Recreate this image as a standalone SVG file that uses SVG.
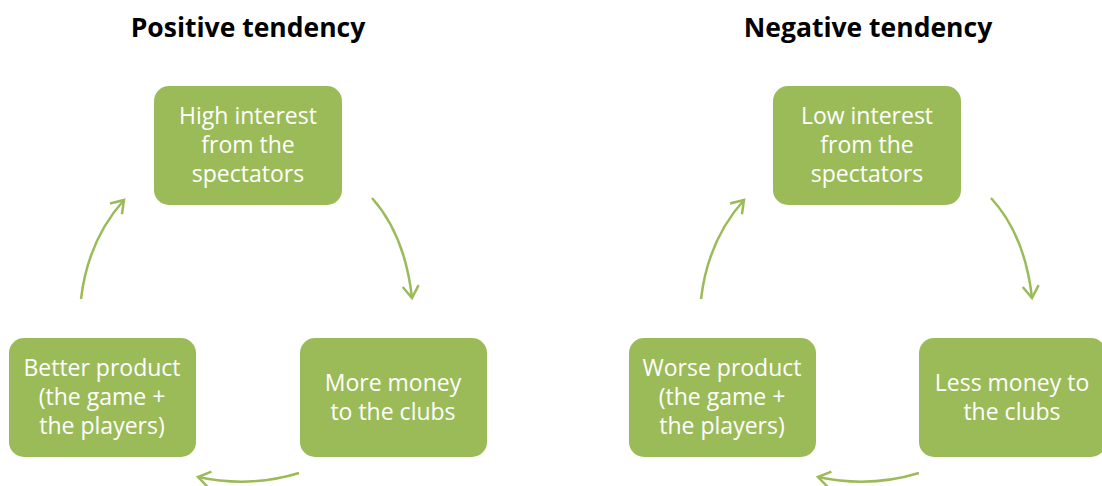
<svg xmlns="http://www.w3.org/2000/svg" width="1102" height="486" viewBox="0 0 1102 486">
<style>
.box{fill:#9BBB59}
.t{font-family:"Open Sans","Liberation Sans",sans-serif;font-size:23px;fill:#fff;text-anchor:middle}
.h{font-family:"Open Sans","Liberation Sans",sans-serif;font-size:26.5px;font-weight:bold;fill:#000;text-anchor:middle}
.c{fill:none;stroke:#9BBB59;stroke-width:2.5}
</style>
<defs>
<marker id="ah" viewBox="0 0 20 20" refX="14" refY="10" markerWidth="20" markerHeight="20" markerUnits="userSpaceOnUse" orient="auto">
<path d="M2,2 L14,10 L2,18" fill="none" stroke="#9BBB59" stroke-width="2.5"/>
</marker>
</defs>
<rect width="1102" height="486" fill="#fff"/>
<text class="h" x="248" y="37">Positive tendency</text>
<text class="h" x="868" y="37">Negative tendency</text>
<g id="high"><rect class="box" x="154" y="86" width="188" height="119" rx="15"/>
<text class="t" x="248" y="124">High interest</text><text class="t" x="248" y="153">from the</text><text class="t" x="248" y="182">spectators</text></g>
<g id="moremoney"><rect class="box" x="300" y="338" width="187" height="119" rx="15"/>
<text class="t" x="393" y="391">More money</text><text class="t" x="393" y="420">to the clubs</text></g>
<g id="better"><rect class="box" x="9" y="338" width="187" height="119" rx="15"/>
<text class="t" x="102" y="376">Better product</text><text class="t" x="102" y="405">(the game +</text><text class="t" x="102" y="434">the players)</text></g>
<g id="low"><rect class="box" x="773" y="86" width="188" height="119" rx="15"/>
<text class="t" x="867" y="124">Low interest</text><text class="t" x="867" y="153">from the</text><text class="t" x="867" y="182">spectators</text></g>
<g id="lessmoney"><rect class="box" x="919" y="338" width="187" height="119" rx="15"/>
<text class="t" x="1012" y="391">Less money to</text><text class="t" x="1012" y="420">the clubs</text></g>
<g id="worse"><rect class="box" x="629" y="338" width="187" height="119" rx="15"/>
<text class="t" x="722" y="376">Worse product</text><text class="t" x="722" y="405">(the game +</text><text class="t" x="722" y="434">the players)</text></g>
<g id="connectors">
<path class="c" d="M81,299 Q88,240 124,200" marker-end="url(#ah)"/>
<path class="c" d="M372,198 Q405,235 412,298" marker-end="url(#ah)"/>
<path class="c" d="M299,473 Q250,488 198,477" marker-end="url(#ah)"/>
<path class="c" d="M701,299 Q708,240 744,200" marker-end="url(#ah)"/>
<path class="c" d="M991,198 Q1025,235 1032,298" marker-end="url(#ah)"/>
<path class="c" d="M919,473 Q870,488 818,477" marker-end="url(#ah)"/>
</g>
</svg>
